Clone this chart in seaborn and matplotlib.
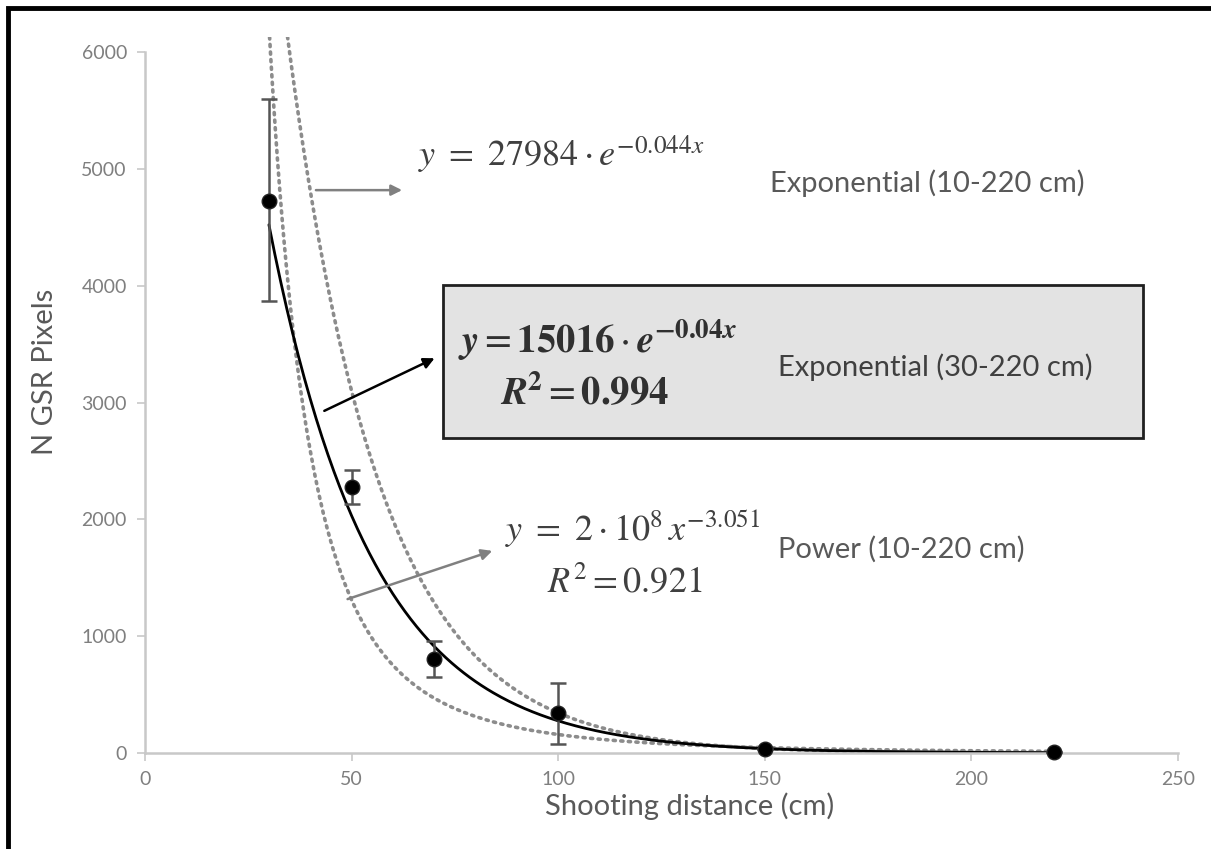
import numpy as np
import matplotlib
matplotlib.use("Agg")
import matplotlib.pyplot as plt
from matplotlib.patches import Rectangle
import seaborn as sns
import pandas as pd

# measured points (shooting distance in cm, N GSR pixels)
distance = [30, 50, 70, 100, 150, 220]
gsr_pixels = [4730, 2280, 805, 340, 30, 5]
err_low = [3870, 2130, 650, 80, 30, 5]
err_high = [5600, 2420, 960, 600, 30, 5]

# trendline coefficients as printed on the chart
EXP_ALL = (27984, -0.044)     # exponential 10-220 cm
EXP_30 = (15016, -0.04)       # exponential 30-220 cm
POW_ALL = (2e8, -3.051)       # power 10-220 cm

sns.set_theme(style="white")
plt.rcParams['font.family'] = ['Lato', 'DejaVu Sans']
plt.rcParams['mathtext.fontset'] = 'stix'

fig = plt.figure(figsize=(12.11, 8.49), dpi=100)
ax = fig.add_axes([0.1197, 0.1131, 0.8530, 0.8433])

# trendlines
x_all = np.linspace(10, 220, 400)
x_30 = np.linspace(30, 220, 400)
curves = pd.DataFrame({
    'x': x_all,
    'exp_all': EXP_ALL[0] * np.exp(EXP_ALL[1] * x_all),
    'pow_all': POW_ALL[0] * x_all ** POW_ALL[1],
})
dot_style = dict(color='#8c8c8c', linewidth=2.6, dashes=(0.6, 1.5), dash_capstyle='round')
sns.lineplot(data=curves, x='x', y='exp_all', ax=ax, **dot_style)
sns.lineplot(data=curves, x='x', y='pow_all', ax=ax, **dot_style)
sns.lineplot(x=x_30, y=EXP_30[0] * np.exp(EXP_30[1] * x_30), ax=ax,
             color='black', linewidth=2.0)

# error bars + points
yerr = [np.array(gsr_pixels) - np.array(err_low), np.array(err_high) - np.array(gsr_pixels)]
ax.errorbar(distance, gsr_pixels, yerr=yerr, fmt='none', ecolor='#555555',
            elinewidth=1.8, capsize=6, capthick=1.8, zorder=3)
sns.scatterplot(x=distance, y=gsr_pixels, ax=ax, color='black', s=110,
                edgecolor='#222222', linewidth=1, zorder=4, clip_on=False)

ax.set_xlim(0, 250)
ax.set_ylim(0, 6130)
ax.set_xticks([0, 50, 100, 150, 200, 250])
ax.set_yticks([0, 1000, 2000, 3000, 4000, 5000, 6000])
for s in ['top', 'right']:
    ax.spines[s].set_visible(False)
for s in ['left', 'bottom']:
    ax.spines[s].set_color('#c8c8c8')
    ax.spines[s].set_linewidth(1.8)
ax.spines['left'].set_bounds(0, 6000)
ax.tick_params(axis='both', colors='#c8c8c8', labelcolor='#7f7f7f', labelsize=14,
               length=6, width=1.2, direction='out', left=True, bottom=True, pad=7)
ax.set_xlabel('Shooting distance (cm)', fontsize=21, color='#595959')
ax.set_ylabel('N GSR Pixels', fontsize=21, color='#595959')
ax.xaxis.set_label_coords(0.527, -0.055)
ax.yaxis.set_label_coords(-0.084, 0.532)

# annotations
ax.text(66.1, 5119, r'$y\ =\ 27984 \cdot e^{-0.044x}$', fontsize=26, color='#404040',
        va='center', ha='left')
ax.text(151.3, 4879, 'Exponential (10-220 cm)', fontsize=21, color='#595959',
        va='center', ha='left')

ax.add_patch(Rectangle((72.1, 2696), 169.4, 1310, facecolor='#e3e3e3',
                       edgecolor='#202020', linewidth=2.0, zorder=1))
ax.text(75.8, 3535, r'$\mathbfit{y} = \mathbf{15016} \cdot \mathbfit{e}^{\mathbf{-0.04}\mathbfit{x}}$',
        fontsize=28, color='#303030', va='center', ha='left', zorder=2)
ax.text(85.9, 3081, r'$\mathbfit{R}^{\mathbf{2}} = \mathbf{0.994}$', fontsize=28,
        color='#303030', va='center', ha='left', zorder=2)
ax.text(153.2, 3304, 'Exponential (30-220 cm)', fontsize=21, color='#404040',
        va='center', ha='left', zorder=2)

ax.text(87.1, 1926, r'$y\ =\ 2 \cdot 10^8\, x^{-3.051}$', fontsize=26, color='#404040',
        va='center', ha='left')
ax.text(97.3, 1481, r'$R^2 = 0.921$', fontsize=26, color='#404040',
        va='center', ha='left')
ax.text(153.2, 1746, 'Power (10-220 cm)', fontsize=21, color='#595959',
        va='center', ha='left')

arrow_gray = dict(arrowstyle='-|>', color='#808080', lw=1.8, mutation_scale=16)
arrow_black = dict(arrowstyle='-|>', color='black', lw=1.8, mutation_scale=16)
ax.annotate('', xy=(62.9, 4819), xytext=(40.7, 4819), arrowprops=arrow_gray)
ax.annotate('', xy=(70.7, 3390), xytext=(42.8, 2919), arrowprops=arrow_black)
ax.annotate('', xy=(84.7, 1738), xytext=(48.4, 1310), arrowprops=arrow_gray)

# black frame around the whole picture
fig.patches.append(Rectangle((8 / 1211, -0.01), 1.02, (849 - 8) / 849 + 0.01,
                             transform=fig.transFigure, fill=False,
                             edgecolor='black', linewidth=3.5))

fig.savefig('out.png', dpi=100)
